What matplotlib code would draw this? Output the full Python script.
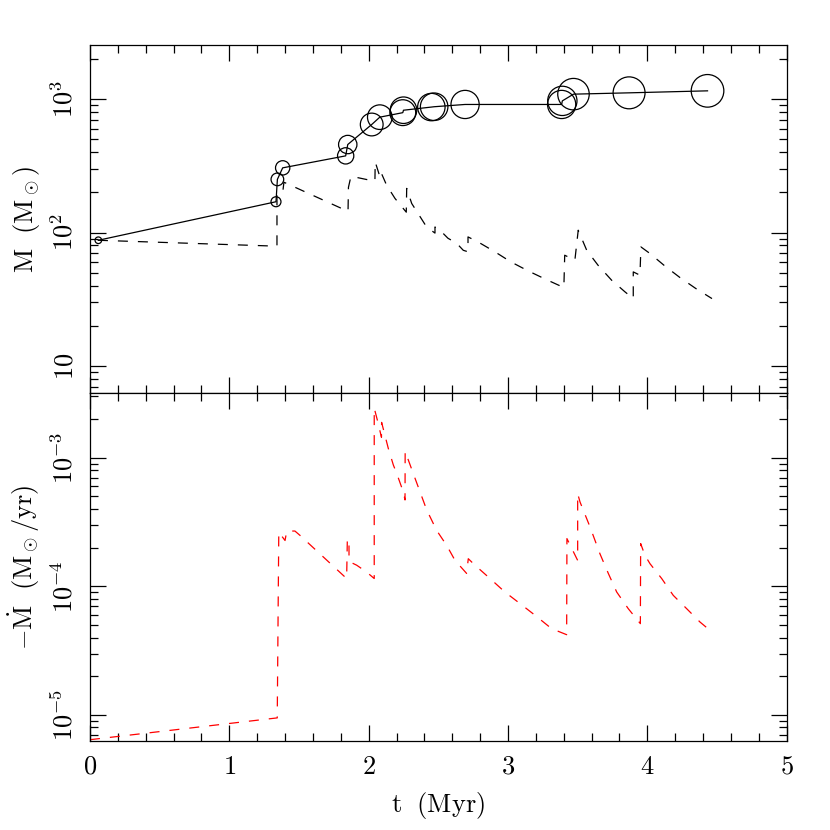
import numpy as np
import matplotlib
matplotlib.use("Agg")
import matplotlib.pyplot as plt
from matplotlib.ticker import LogLocator, NullFormatter, MultipleLocator

plt.rcParams['mathtext.fontset'] = 'cm'
plt.rcParams['font.family'] = ['DejaVu Serif']

# merger events: time (Myr) and mass (Msun) of the growing object
t_merge = [0.06, 1.335, 1.345, 1.383, 1.835, 1.85, 2.022, 2.08, 2.245, 2.25,
           2.45, 2.47, 2.692, 3.385, 3.39, 3.47, 3.869, 4.432]
m_merge = [87.5, 170, 250, 305, 375, 456, 644, 731, 790, 824,
           870, 875, 910, 910, 968, 1087, 1112, 1151]

# mass of the star (dashed)
t_star = [0.057, 1.342, 1.342, 1.385, 1.392, 1.852, 1.855, 1.873, 2.045, 2.047,
          2.081, 2.088, 2.129, 2.189, 2.27, 2.273, 2.309, 2.416, 2.476, 2.476,
          2.512, 2.569, 2.632, 2.679, 2.713, 2.713, 2.785, 2.906, 3.02, 3.146,
          3.273, 3.401, 3.407, 3.48, 3.504, 3.565, 3.646, 3.744, 3.84, 3.899,
          3.899, 3.947, 3.954, 4.019, 4.127, 4.234, 4.349, 4.464]
m_star = [87.5, 79, 200, 207, 238, 144, 218, 264, 242, 338,
          261, 283, 226, 180, 142, 214, 165, 110, 99, 110,
          104, 90.6, 83, 73.6, 71.7, 92.7, 85, 71.7, 60.3, 51.5,
          44.5, 38.7, 67.6, 62, 104, 73.6, 56.9, 43.9, 35.9, 32,
          50.7, 47.9, 78, 69.6, 56, 46, 38, 32]

# mass loss rate (Msun/yr)
t_mdot = [0.0, 1.344, 1.355, 1.40, 1.412, 1.471, 1.507, 1.842, 1.847, 1.859,
          1.859, 1.914, 1.986, 2.04, 2.04, 2.065, 2.092, 2.093, 2.141, 2.177,
          2.201, 2.248, 2.261, 2.262, 2.284, 2.332, 2.416, 2.488, 2.56, 2.62,
          2.703, 2.715, 2.763, 2.871, 2.978, 3.086, 3.194, 3.313, 3.421, 3.423,
          3.481, 3.50, 3.50, 3.517, 3.589, 3.66, 3.72, 3.78, 3.863, 3.95,
          3.952, 3.983, 4.019, 4.103, 4.186, 4.282, 4.378, 4.46]
mdot = [6.43e-6, 9.5e-6, 2.64e-4, 2.27e-4, 2.69e-4, 2.69e-4, 2.49e-4, 1.15e-4, 2.32e-4, 2.32e-4,
        1.56e-4, 1.46e-4, 1.29e-4, 1.15e-4, 2.43e-3, 1.91e-3, 1.44e-3, 1.88e-3, 1.18e-3, 8.78e-4,
        7.56e-4, 5.44e-4, 4.69e-4, 1.12e-3, 9.63e-4, 6.95e-4, 3.94e-4, 2.72e-4, 2.08e-4, 1.59e-4,
        1.26e-4, 1.64e-4, 1.46e-4, 1.15e-4, 9.03e-5, 7.35e-5, 5.96e-5, 4.69e-5, 4.21e-5, 2.35e-4,
        1.75e-4, 1.59e-4, 5.26e-4, 4.52e-4, 2.89e-4, 1.79e-4, 1.26e-4, 9.04e-5, 6.71e-5, 5.13e-5,
        2.15e-4, 1.74e-4, 1.50e-4, 1.15e-4, 8.51e-5, 6.71e-5, 5.28e-5, 4.45e-5]

fs = 19

fig = plt.figure(figsize=(8.3, 8.3), dpi=100)
ax1 = fig.add_axes([0.1084, 0.5265, 0.8394, 0.4193])
ax2 = fig.add_axes([0.1084, 0.1072, 0.8394, 0.4193], sharex=ax1)

# top panel
ax1.plot(t_merge, m_merge, color='k', lw=0.9)
m = np.array(m_merge)
r_px = 3.3 * (m / 87.5) ** 0.62
ax1.scatter(t_merge, m_merge, s=(2 * r_px * 0.72) ** 2, facecolors='none',
            edgecolors='k', linewidths=0.9, zorder=3)
ax1.plot(t_star, m_star, color='k', lw=0.9, dashes=(8, 8))
ax1.set_yscale('log')
ax1.set_ylim(6.28, 2538)
ax1.set_yticks([10, 100, 1000])
ax1.set_yticklabels([r'$10$', r'$10^2$', r'$10^3$'], rotation=90, va='center')
ax1.set_ylabel(r'$\mathrm{M\ \ (M_\odot)}$', fontsize=fs, labelpad=6)

# bottom panel
ax2.plot(t_mdot, mdot, color='#ff0000', lw=0.9, dashes=(8, 8))
ax2.set_yscale('log')
ax2.set_ylim(6.28e-6, 3.18e-3)
ax2.set_yticks([1e-5, 1e-4, 1e-3])
ax2.set_yticklabels([r'$10^{-5}$', r'$10^{-4}$', r'$10^{-3}$'], rotation=90, va='center')
ax2.set_ylabel(r'$-\dot{\mathrm{M}}\ \ \mathrm{(M_\odot/yr)}$', fontsize=fs, labelpad=6)
ax2.set_xlabel(r'$\mathrm{t\ \ (Myr)}$', fontsize=fs, labelpad=8)

ax2.set_xlim(0, 5)
ax2.set_xticks([0, 1, 2, 3, 4, 5])
ax2.set_xticklabels([r'$%d$' % i for i in range(6)])
ax2.xaxis.set_minor_locator(MultipleLocator(0.2))

for ax in (ax1, ax2):
    ax.yaxis.set_minor_locator(LogLocator(base=10, subs=np.arange(2, 10), numticks=20))
    ax.yaxis.set_minor_formatter(NullFormatter())
    ax.tick_params(which='both', direction='in', top=True, right=True, width=0.9)
    ax.tick_params(which='major', length=11.5, labelsize=fs, pad=9)
    ax.tick_params(which='minor', length=5.8)
    for sp in ax.spines.values():
        sp.set_linewidth(0.9)
ax1.tick_params(labelbottom=False)

fig.savefig('out.png', dpi=100)
